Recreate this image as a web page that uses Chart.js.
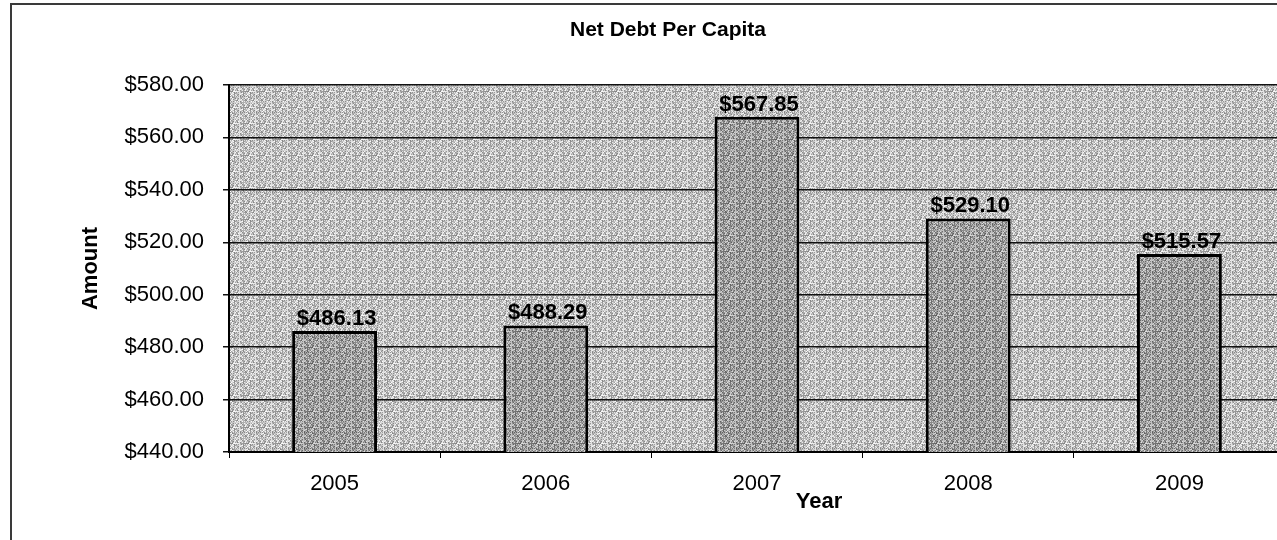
<!DOCTYPE html>
<html>
<head>
<meta charset="utf-8">
<script src="https://cdn.jsdelivr.net/npm/chart.js@4.4.1/dist/chart.umd.min.js"></script>
<style>
    html, body { margin: 0; padding: 0; background: #fff; overflow: hidden; }
    #wrap { position: absolute; left: 0; top: 0; width: 1290px; height: 540px; }
    #frame { position: absolute; left: 10px; top: 3px; width: 1300px; height: 600px;
             border-left: 2px solid #3a3a3a; border-top: 2px solid #3a3a3a; pointer-events: none; }
</style>
</head>
<body>
<div id="frame"></div>
<div id="wrap"><canvas id="mainChart"></canvas></div>
<script>
// --- Data ---
const years = ['2005', '2006', '2007', '2008', '2009'];
const amounts = [486.13, 488.29, 567.85, 529.10, 515.57];
const yMin = 440;
const yMax = 580;
const yStep = 20;

const chartTitle = 'Net Debt Per Capita';
const xTitle = 'Year';
const yTitle = 'Amount';

const FONT = '"Liberation Sans", Arial, sans-serif';
const money = v => '$' + Number(v).toFixed(2);

// --- Texture (scanned-print look, fixed hash, no randomness) ---
function makeTexture(base, spread) {
    const size = 16;
    const c = document.createElement('canvas');
    c.width = size; c.height = size;
    const g = c.getContext('2d');
    const img = g.createImageData(size, size);
    for (let y = 0; y < size; y++) {
        for (let x = 0; x < size; x++) {
            const h = ((x * 73 + y * 151 + x * y * 17) % 29) / 28; // 0..1
            const v = Math.max(0, Math.min(255, Math.round(base + (h - 0.5) * spread)));
            const k = (y * size + x) * 4;
            img.data[k] = img.data[k + 1] = img.data[k + 2] = v;
            img.data[k + 3] = 255;
        }
    }
    g.putImageData(img, 0, 0);
    return g.createPattern(c, 'repeat');
}

// --- Plugins ---
const plotBg = {
    id: 'plotBg',
    beforeDraw(chart) {
        const { ctx, chartArea: a } = chart;
        ctx.save();
        ctx.fillStyle = makeTexture(192, 120);
        ctx.fillRect(a.left, a.top, a.right - a.left, a.bottom - a.top);
        ctx.restore();
    }
};

// value labels over bars, chart title and the off-centre x title
const extras = {
    id: 'extras',
    afterDatasetsDraw(chart) {
        const { ctx, chartArea: a } = chart;
        const meta = chart.getDatasetMeta(0);
        ctx.save();
        ctx.fillStyle = '#000';
        ctx.textAlign = 'center';
        ctx.textBaseline = 'alphabetic';
        ctx.font = 'bold 22px ' + FONT;
        meta.data.forEach((bar, i) => {
            ctx.fillText(money(amounts[i]), bar.x + 2, bar.y - 6);
        });

        ctx.font = 'bold 21px ' + FONT;
        ctx.textBaseline = 'middle';
        ctx.fillText(chartTitle, 668, 30);

        ctx.font = 'bold 22px ' + FONT;
        ctx.fillText(xTitle, (a.left + a.right) / 2 + 62, 502);
        ctx.restore();
    }
};

// --- Chart ---
const ctx = document.getElementById('mainChart').getContext('2d');
const mainChart = new Chart(ctx, {
    type: 'bar',
    data: {
        labels: years,
        datasets: [{
            data: amounts,
            backgroundColor: makeTexture(158, 130),
            borderColor: '#000',
            borderWidth: 3,
            borderSkipped: false,
            barPercentage: 0.402,
            categoryPercentage: 1
        }]
    },
    options: {
        responsive: true,
        maintainAspectRatio: false,
        animation: false,
        layout: { padding: { left: 0, right: 5, top: 85, bottom: 0 } },
        plugins: {
            legend: { display: false },
            title: { display: false },
            tooltip: { enabled: false }
        },
        scales: {
            x: {
                grid: { drawOnChartArea: false, drawTicks: true, tickLength: 6, color: '#000', lineWidth: 1 },
                border: { display: true, color: '#000', width: 2 },
                ticks: { color: '#000', padding: 13, font: { family: FONT, size: 22 } },
                afterFit(scale) { scale.height = 88; }
            },
            y: {
                min: yMin,
                max: yMax,
                ticks: {
                    stepSize: yStep,
                    color: '#000',
                    padding: 19,
                    font: { family: FONT, size: 22 },
                    callback: v => money(v)
                },
                grid: { color: '#111', lineWidth: 1.5, tickLength: 6 },
                border: { display: true, color: '#000', width: 2 },
                title: {
                    display: true,
                    text: yTitle,
                    color: '#000',
                    padding: { top: 78, bottom: 0 },
                    font: { family: FONT, size: 22, weight: 'bold' }
                },
                afterFit(scale) { scale.width = 229; }
            }
        }
    },
    plugins: [plotBg, extras]
});
</script>
</body>
</html>
